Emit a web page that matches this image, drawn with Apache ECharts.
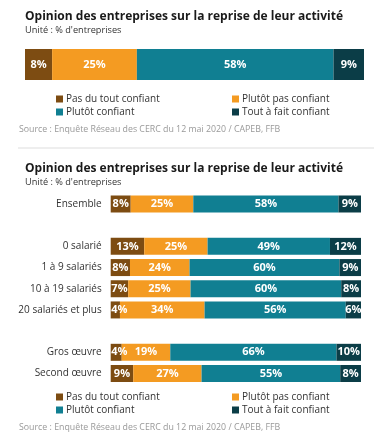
<!DOCTYPE html>
<html><head><meta charset="utf-8">
<script src="https://cdn.jsdelivr.net/npm/echarts@6/dist/echarts.min.js"></script>
<style>html,body{margin:0;padding:0;background:#fff}#c{width:380px;height:440px}</style>
</head><body><div id="c"></div>
<script>
const seriesNames = ['Pas du tout confiant', 'Plutôt pas confiant', 'Plutôt confiant', 'Tout à fait confiant'];
const colors = ['#7d4c12', '#f49b22', '#107f92', '#0b3d47'];

// Top chart (single bar)
const topValues = [8, 25, 58, 9];

// Bottom chart (blank categories create gaps)
const categories = ['Ensemble', ' ', '0 salarié', '1 à 9 salariés', '10 à 19 salariés', '20 salariés et plus', '  ', 'Gros œuvre', 'Second œuvre'];
const pasDuTout   = [8,    null, 13.4, 7.7,  7.0,  3.7,  null, 4.4,  9.0];
const plutotPas   = [25,   null, 25.3, 23.8, 24.9, 33.8, null, 19.4, 27.3];
const plutotConf  = [58,   null, 48.9, 59.9, 60.2, 56.4, null, 66.4, 55.4];
const toutAFait   = [9,    null, 12.4, 8.6,  7.9,  6.1,  null, 9.8,  8.3];
const bottomValues = [pasDuTout, plutotPas, plutotConf, toutAFait];

const titleText = 'Opinion des entreprises sur la reprise de leur activité';
const subText = "Unité : % d'entreprises";
const sourceText = 'Source : Enquête Réseau des CERC du 12 mai 2020 / CAPEB, FFB';

const FONT = '"Open Sans", "Noto Sans", sans-serif';
const chart = echarts.init(document.getElementById('c'));

const labelCfg = {
  show: true, position: 'inside', color: '#fff', fontWeight: 'bold', fontSize: 11, fontFamily: FONT,
  formatter: p => (p.value == null ? '' : Math.round(p.value) + '%')
};
// keep labels from spilling left of the bar start
const clampLeft = p => {
  const d = p.rect.x - p.labelRect.x;
  return d > 0 ? { dx: d + 0.5 } : {};
};

const series = [];
seriesNames.forEach((n, i) => {
  series.push({
    name: n, type: 'bar', stack: 'top', xAxisIndex: 0, yAxisIndex: 0,
    barWidth: 31, itemStyle: { color: colors[i] }, label: labelCfg,
    data: [topValues[i]]
  });
});
seriesNames.forEach((n, i) => {
  series.push({
    name: n, type: 'bar', stack: 'bottom', xAxisIndex: 1, yAxisIndex: 1,
    barWidth: 17, itemStyle: { color: colors[i] }, label: labelCfg,
    labelLayout: i === 0 ? clampLeft : undefined,
    data: bottomValues[i]
  });
});

function legend(items, left, top) {
  return {
    data: items, orient: 'vertical', left: left, top: top, padding: 0,
    itemWidth: 7, itemHeight: 7, itemGap: 3, icon: 'rect',
    textStyle: { fontSize: 10, color: '#333', fontFamily: FONT, lineHeight: 10, padding: [0, 0, 0, -2] }
  };
}

const titleStyle = { fontSize: 12, fontWeight: 'bold', color: '#1a1a1a', lineHeight: 16, fontFamily: FONT };
const subStyle = { fontSize: 9.2, color: '#333', lineHeight: 11, fontFamily: FONT };

chart.setOption({
  animation: false,
  textStyle: { fontFamily: FONT },
  title: [
    { text: titleText, subtext: subText, left: 25, top: 9, itemGap: 0, padding: 0, textStyle: titleStyle, subtextStyle: subStyle },
    { text: titleText, subtext: subText, left: 25, top: 161, itemGap: 0, padding: 0, textStyle: titleStyle, subtextStyle: subStyle }
  ],
  legend: [
    legend([seriesNames[0], seriesNames[2]], 56, 94),
    legend([seriesNames[1], seriesNames[3]], 232, 94),
    legend([seriesNames[0], seriesNames[2]], 56, 392),
    legend([seriesNames[1], seriesNames[3]], 232, 392)
  ],
  grid: [
    { left: 25, right: 16, top: 49, height: 31 },
    { left: 110.7, right: 19, top: 193.4, height: 190.7 }
  ],
  xAxis: [
    { gridIndex: 0, type: 'value', min: 0, max: 100, show: false },
    { gridIndex: 1, type: 'value', min: 0, max: 100, show: false }
  ],
  yAxis: [
    { gridIndex: 0, type: 'category', data: [''], show: false },
    { gridIndex: 1, type: 'category', data: categories, inverse: true,
      axisLine: { show: false }, axisTick: { show: false },
      axisLabel: { fontSize: 10, color: '#333', margin: 9, fontFamily: FONT } }
  ],
  graphic: [
    { type: 'text', left: 19, top: 125, style: { text: sourceText, fontSize: 8.8, fill: '#999', fontFamily: FONT } },
    { type: 'line', shape: { x1: 18, y1: 148, x2: 374, y2: 148 }, style: { stroke: '#ddd', lineWidth: 1 } },
    { type: 'text', left: 19, top: 423, style: { text: sourceText, fontSize: 8.8, fill: '#999', fontFamily: FONT } }
  ],
  series: series
});
</script>
</body></html>
